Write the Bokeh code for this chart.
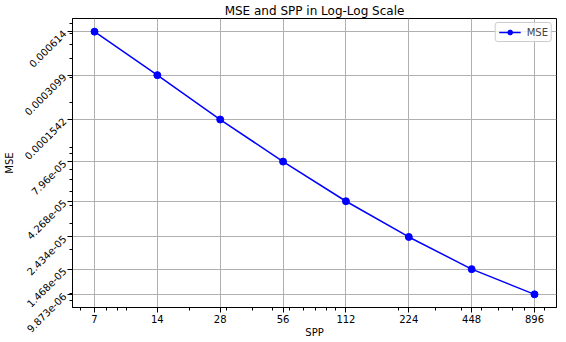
import math
from bokeh.plotting import figure
from bokeh.models import FixedTicker, ColumnDataSource, Legend, LegendItem
from bokeh.embed import file_html
from bokeh.resources import INLINE

spp = [7, 14, 28, 56, 112, 224, 448, 896]
mse = [0.000614, 0.0003099, 0.0001542, 7.96e-05, 4.268e-05, 2.434e-05, 1.468e-05, 9.873e-06]
x_labels = ["7", "14", "28", "56", "112", "224", "448", "896"]
y_labels = ["0.000614", "0.0003099", "0.0001542", "7.96e-05", "4.268e-05", "2.434e-05", "1.468e-05", "9.873e-06"]

# matplotlib-like 5% margins in log space
lx0, lx1 = math.log10(min(spp)), math.log10(max(spp))
ly0, ly1 = math.log10(min(mse)), math.log10(max(mse))
mx = (lx1 - lx0) * 0.05
my = (ly1 - ly0) * 0.05
x_range = (10 ** (lx0 - mx), 10 ** (lx1 + mx))
y_range = (10 ** (ly0 - my), 10 ** (ly1 + my))

FONT = "DejaVu Sans"

p = figure(frame_width=484, frame_height=289, x_axis_type="log", y_axis_type="log",
           x_range=x_range, y_range=y_range,
           output_backend="svg", toolbar_location=None,
           title="MSE and SPP in Log-Log Scale",
           min_border_left=0, min_border_right=2, min_border_top=0, min_border_bottom=0)

p.title.align = "center"
p.title.text_font = FONT
p.title.text_font_size = "12px"
p.title.text_font_style = "normal"
p.title.text_color = "#000000"
p.title.standoff = 2

# minor ticks (log style)
def minor_list(lo, hi):
    out = []
    e = math.floor(math.log10(lo)) - 1
    while 10 ** e <= hi * 10:
        for m in range(1, 10):
            v = m * 10 ** e
            if lo <= v <= hi:
                out.append(v)
        e += 1
    return out

p.xaxis.ticker = FixedTicker(ticks=spp, minor_ticks=minor_list(*x_range))
p.yaxis.ticker = FixedTicker(ticks=mse, minor_ticks=minor_list(*y_range))
p.xaxis.major_label_overrides = {v: s for v, s in zip(spp, x_labels)}
p.yaxis.major_label_overrides = {v: s for v, s in zip(mse, y_labels)}
p.yaxis.major_label_orientation = math.pi / 4

for ax in (p.xaxis, p.yaxis):
    ax.major_label_text_font = FONT
    ax.major_label_text_font_size = "10px"
    ax.major_label_text_color = "#000000"
    ax.axis_label_text_font = FONT
    ax.axis_label_text_font_size = "10px"
    ax.axis_label_text_font_style = "normal"
    ax.axis_label_text_color = "#000000"
    ax.major_tick_out = 5
    ax.major_tick_in = 0
    ax.minor_tick_out = 3
    ax.minor_tick_in = 0
    ax.axis_line_color = "#000000"
    ax.major_tick_line_color = "#000000"
    ax.minor_tick_line_color = "#000000"

p.xaxis.axis_label_standoff = 1
p.xaxis.major_label_standoff = 2
p.yaxis.axis_label_standoff = 3
p.yaxis.major_label_standoff = 3

p.xaxis.axis_label = "SPP"
p.yaxis.axis_label = "MSE"

p.outline_line_color = "#000000"
p.outline_line_width = 1
p.xgrid.grid_line_color = "#b0b0b0"
p.ygrid.grid_line_color = "#b0b0b0"
p.xgrid.grid_line_width = 1
p.ygrid.grid_line_width = 1

src = ColumnDataSource(dict(x=spp, y=mse))
ln = p.line("x", "y", source=src, line_color="#0000ff", line_width=1.5)
sc = p.scatter("x", "y", source=src, size=7, fill_color="#0000ff", line_color="#0000ff")

legend = Legend(items=[LegendItem(label="MSE", renderers=[ln, sc])],
                location="top_right",
                label_text_font=FONT, label_text_font_size="10px",
                border_line_color="#cccccc", border_line_alpha=1,
                background_fill_alpha=0.8,
                glyph_width=22, glyph_height=12,
                label_standoff=6, padding=3, spacing=0, margin=4,
                border_radius=3)
p.add_layout(legend)

open("out.html", "w").write(file_html(p, INLINE))
